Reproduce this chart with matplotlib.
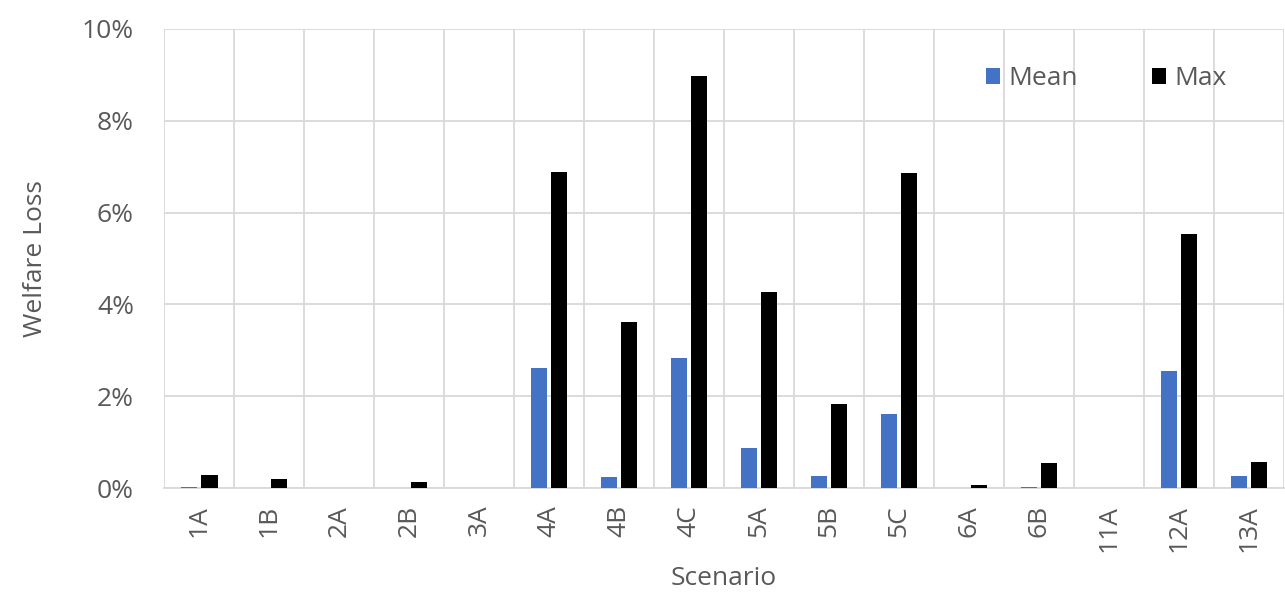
import numpy as np
import matplotlib
matplotlib.use('Agg')
import matplotlib.pyplot as plt
from matplotlib.ticker import PercentFormatter

# Datos (en %)
escenarios = ['1A', '1B', '2A', '2B', '3A', '4A', '4B', '4C',
              '5A', '5B', '5C', '6A', '6B', '11A', '12A', '13A']
media = [0.03, 0.0, 0.0, 0.0, 0.0, 2.61, 0.24, 2.83,
         0.87, 0.27, 1.61, 0.0, 0.03, 0.0, 2.56, 0.27]
maximo = [0.28, 0.20, 0.0, 0.14, 0.0, 6.88, 3.62, 8.97,
          4.27, 1.83, 6.86, 0.08, 0.54, 0.0, 5.54, 0.56]

gris = '#595959'
plt.rcParams['font.family'] = ['Open Sans', 'DejaVu Sans']

fig = plt.figure(figsize=(12.85, 5.99), dpi=100)
ax = fig.add_axes([0.128, 0.185, 0.871, 0.767])

x = np.arange(len(escenarios))
ancho = 0.23
ax.bar(x - 0.143, media, ancho, color='#4472C4', label='Mean', zorder=3)
ax.bar(x + 0.143, maximo, ancho, color='#000000', label='Max', zorder=3)

ax.set_xlim(-0.5, len(escenarios) - 0.5)
ax.set_ylim(0, 10)
ax.yaxis.set_major_formatter(PercentFormatter(decimals=0))
ax.set_yticks(range(0, 11, 2))
ax.set_xticks(x)
ax.set_xticklabels(escenarios, rotation=90)

# lineas de cuadricula verticales entre categorias
ax.set_xticks(np.arange(-0.5, len(escenarios), 1), minor=True)
ax.grid(True, which='minor', axis='x', color='#d9d9d9', lw=1.3, zorder=0)
ax.grid(True, which='major', axis='y', color='#d9d9d9', lw=1.3, zorder=0)
ax.tick_params(axis='both', which='both', length=0, colors=gris, labelsize=19)
ax.tick_params(axis='y', pad=22)
ax.tick_params(axis='x', pad=12)

for s in ['top', 'right', 'left']:
    ax.spines[s].set_visible(False)
ax.spines['bottom'].set_color('#d9d9d9')
ax.spines['bottom'].set_linewidth(1.3)

ax.set_ylabel('Welfare Loss', color=gris, fontsize=19, labelpad=24)
ax.set_xlabel('Scenario', color=gris, fontsize=19, labelpad=10)

leg = ax.legend(loc='upper right', bbox_to_anchor=(0.97, 0.97), ncol=2,
                frameon=False, fontsize=19, handlelength=0.55, handleheight=0.55,
                columnspacing=2.8, handletextpad=0.3)
for t in leg.get_texts():
    t.set_color(gris)

fig.savefig('out.png', dpi=100)
